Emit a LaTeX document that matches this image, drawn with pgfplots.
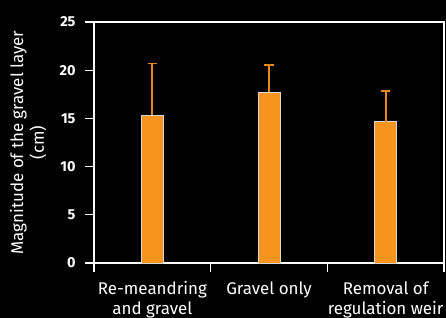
\documentclass[border=0pt]{standalone}
\usepackage{fontspec}
\setmainfont{Fira Sans}
\usepackage{pgfplots}
\pgfplotsset{compat=1.18}
\definecolor{barorange}{HTML}{F7941D}
\definecolor{errorange}{HTML}{E8891C}
\begin{document}
\begin{tikzpicture}
\fill[black] (-94bp,-55bp) rectangle (352bp,263bp);
\begin{axis}[
  at={(0,0)}, anchor=south west,
  scale only axis, width=350bp, height=241bp,
  xmin=-0.5, xmax=2.5, ymin=0, ymax=25,
  axis line style={white, line width=1.3bp},
  tick style={white, line width=1.3bp},
  tick align=outside,
  tick pos=left,
  major tick length=9bp,
  minor tick length=9bp,
  xtick={0,1,2},
  xticklabels={Re-meandring\\and gravel, Gravel only, Removal of\\regulation weir},
  major x tick style={draw=none},
  minor xtick={-0.5,0.5,1.5,2.5},
  x tick label style={align=center, font=\fontsize{17}{20}\selectfont, text=white, anchor=north, yshift=-6bp},
  ytick={0,5,10,15,20,25},
  /pgf/number format/assume math mode=true,
  y tick label style={font=\bfseries\fontsize{14.5}{15}\selectfont, text=white, xshift=-6bp},
  ylabel={Magnitude of the gravel layer\\(cm)},
  ylabel style={align=center, text=white, font=\fontsize{17}{21}\selectfont, at={(axis description cs:-0.126,0.5)}, anchor=south},
]
\addplot[ybar, bar width=22bp, bar shift=0pt, fill=barorange, draw=white!85!black, line width=0.7bp]
coordinates {(0,15.35) (1,17.7) (2,14.66)};
\addplot[forget plot, draw=none, mark=none, line width=1.8bp,
  error bars/.cd, y dir=plus, y explicit,
  error bar style={draw=errorange, line width=1.8bp},
  error mark options={draw=errorange, line width=1.8bp, mark size=4.7bp, rotate=90}]
coordinates {(0,15.35) +- (0,5.35) (1,17.7) +- (0,2.87) (2,14.66) +- (0,3.21)};
\end{axis}
\pgfresetboundingbox
\path[use as bounding box] (-94bp,-55bp) rectangle (352bp,263bp);
\end{tikzpicture}
\end{document}
